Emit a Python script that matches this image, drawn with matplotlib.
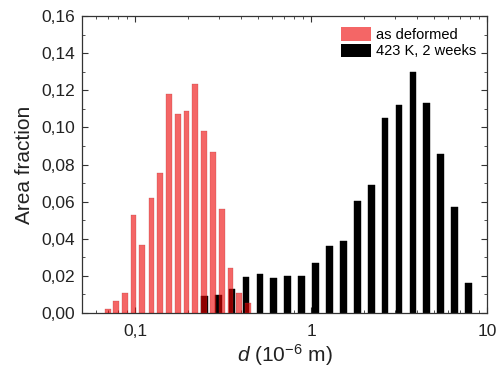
import numpy as np
import matplotlib
matplotlib.use("Agg")
import matplotlib.pyplot as plt
from matplotlib.ticker import FixedLocator, FuncFormatter, LogLocator, NullFormatter, MultipleLocator
from matplotlib.patches import Patch

plt.rcParams['font.family'] = ['Liberation Sans', 'DejaVu Sans']
plt.rcParams['mathtext.fontset'] = 'custom'
plt.rcParams['mathtext.rm'] = 'Liberation Sans'
plt.rcParams['mathtext.it'] = 'Liberation Sans:italic'

# Data
red_d = [0.070, 0.078, 0.088, 0.098, 0.110, 0.124, 0.139, 0.156, 0.175,
         0.196, 0.220, 0.247, 0.277, 0.311, 0.349, 0.391, 0.439]
red_frac = [0.002, 0.0063, 0.0108, 0.0528, 0.0365, 0.0618, 0.0753, 0.118, 0.107,
            0.109, 0.1234, 0.098, 0.0866, 0.056, 0.0244, 0.0106, 0.0052]
black_d = [0.2476, 0.2970, 0.3562, 0.4273, 0.5126, 0.6148, 0.7375, 0.8846, 1.0611,
           1.2728, 1.5267, 1.8313, 2.1966, 2.6348, 3.1605, 3.791, 4.547, 5.455,
           6.543, 7.848]
black_frac = [0.0092, 0.0097, 0.0128, 0.0192, 0.0208, 0.0187, 0.0199, 0.0201, 0.0271,
              0.0363, 0.039, 0.0605, 0.069, 0.105, 0.112, 0.1297, 0.113, 0.0858,
              0.057, 0.016]
labels = ["as deformed", "423 K, 2 weeks"]

TXT = '#222222'

fig = plt.figure(figsize=(4.97, 3.74), dpi=100)
ax = fig.add_axes([0.165, 0.163, 0.815, 0.794])


def log_bars(ax, centers, heights, wdec, **kw):
    c = np.asarray(centers)
    left = c * 10 ** (-wdec / 2)
    right = c * 10 ** (wdec / 2)
    ax.bar(left, heights, width=right - left, align='edge', **kw)


log_bars(ax, black_d, black_frac, 0.038, color='black', edgecolor='black', linewidth=0.3, zorder=2)
log_bars(ax, red_d, red_frac, 0.033, color='#ee0000', alpha=0.6, edgecolor='#b03030', linewidth=0.3, zorder=3)

ax.set_xscale('log')
ax.set_xlim(0.05, 10)
ax.set_ylim(0, 0.16)

ax.xaxis.set_major_locator(FixedLocator([0.1, 1, 10]))
ax.xaxis.set_major_formatter(FuncFormatter(lambda v, p: ('%g' % v).replace('.', ',')))
ax.xaxis.set_minor_locator(LogLocator(base=10, subs=np.arange(2, 10)))
ax.xaxis.set_minor_formatter(NullFormatter())

ax.yaxis.set_major_locator(MultipleLocator(0.02))
ax.yaxis.set_minor_locator(MultipleLocator(0.01))
ax.yaxis.set_major_formatter(FuncFormatter(lambda v, p: ('%.2f' % v).replace('.', ',')))

ax.tick_params(which='both', direction='in', top=True, right=True, labelsize=12.5,
               colors='#333333', labelcolor=TXT)
ax.tick_params(axis='x', which='major', pad=8)
ax.tick_params(axis='y', which='major', pad=5)
ax.tick_params(which='major', length=4, width=0.8)
ax.tick_params(which='minor', length=2.5, width=0.6)
for s in ax.spines.values():
    s.set_linewidth(0.9)
    s.set_color('#333333')

ax.set_ylabel('Area fraction', fontsize=15, color=TXT, labelpad=5)
ax.set_xlabel(r'$d$ (10$^{-6}$ m)', fontsize=15, color=TXT, labelpad=2)

handles = [Patch(facecolor='#ee0000', alpha=0.6, edgecolor='none'),
           Patch(facecolor='black', edgecolor='none')]
ax.legend(handles, labels, loc='upper right', frameon=False, fontsize=10.5,
          handlelength=2.1, handleheight=1.05, handletextpad=0.3, labelspacing=0.12,
          borderaxespad=0.55, borderpad=0.2)

fig.savefig('out.png', dpi=100)
